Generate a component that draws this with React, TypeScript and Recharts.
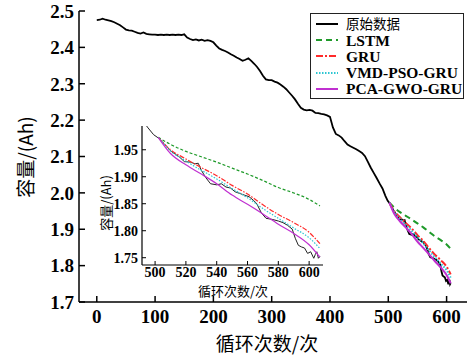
import { LineChart, Line, XAxis, YAxis, CartesianGrid } from 'recharts';

// 原始数据
const rawCycles = [
  0, 5, 10, 15, 20, 25, 30, 35, 40, 45, 50, 55, 60, 65, 70, 75, 80, 85, 90, 95,
  100, 105, 110, 115, 120, 125, 130, 135, 140, 145, 150, 155, 160, 165, 170, 175, 180, 185, 190, 195,
  200, 205, 210, 215, 220, 225, 230, 235, 240, 245, 250, 255, 260, 265, 270, 275, 280, 285, 290, 295,
  300, 305, 310, 315, 320, 325, 330, 335, 340, 345, 350, 355, 360, 365, 370, 375, 380, 385, 390, 395,
  400, 405, 410, 415, 420, 425, 430, 435, 440, 445, 450, 455, 460, 465, 470, 475, 480, 485, 490, 495,
  499, 502, 506, 510, 513, 516, 519, 523, 526, 528, 530, 533, 536, 540, 543, 546, 549, 552, 555, 558,
  561, 564, 566, 569, 572, 576, 580, 583, 586, 589, 591, 593, 595, 597, 599, 601, 603, 604, 605, 606, 607,
];
const rawCapacity = [
  2.475, 2.476, 2.479, 2.476, 2.474, 2.472, 2.469, 2.465, 2.461, 2.455, 2.449, 2.447, 2.446, 2.443, 2.44, 2.438, 2.441, 2.437, 2.436, 2.435,
  2.435, 2.434, 2.435, 2.434, 2.435, 2.434, 2.435, 2.434, 2.435, 2.434, 2.436, 2.427, 2.423, 2.42, 2.422, 2.419, 2.421, 2.418, 2.42, 2.418,
  2.414, 2.405, 2.397, 2.393, 2.39, 2.386, 2.381, 2.377, 2.372, 2.368, 2.363, 2.366, 2.37, 2.363, 2.355, 2.346, 2.335, 2.322, 2.312, 2.31,
  2.31, 2.306, 2.303, 2.298, 2.292, 2.285, 2.276, 2.267, 2.257, 2.245, 2.234, 2.229, 2.227, 2.228, 2.226, 2.22, 2.219, 2.217, 2.216, 2.213,
  2.209, 2.18, 2.162, 2.158, 2.152, 2.142, 2.133, 2.128, 2.124, 2.12, 2.115, 2.11, 2.101, 2.085, 2.069, 2.055, 2.041, 2.026, 2.012, 1.992,
  1.978, 1.972, 1.961, 1.948, 1.942, 1.936, 1.928, 1.927, 1.924, 1.925, 1.912, 1.898, 1.887, 1.885, 1.887, 1.881, 1.879, 1.872, 1.869, 1.866,
  1.863, 1.856, 1.85, 1.833, 1.823, 1.821, 1.818, 1.815, 1.81, 1.803, 1.786, 1.773, 1.77, 1.768, 1.758, 1.761, 1.749, 1.756, 1.761, 1.749, 1.752,
];

// predictions
const predCycles = [502, 510, 520, 530, 540, 550, 560, 570, 580, 590, 600, 607];
const lstm = [1.973, 1.96, 1.947, 1.937, 1.927, 1.916, 1.905, 1.893, 1.88, 1.87, 1.858, 1.846];
const gru = [1.973, 1.95, 1.933, 1.917, 1.902, 1.884, 1.868, 1.848, 1.83, 1.815, 1.797, 1.776];
const vmdPsoGru = [1.973, 1.948, 1.929, 1.912, 1.896, 1.878, 1.861, 1.841, 1.823, 1.805, 1.787, 1.767];
const pcaGwoGru = [1.973, 1.943, 1.922, 1.905, 1.887, 1.866, 1.849, 1.831, 1.812, 1.795, 1.774, 1.751];

const mainXTicks = [0, 100, 200, 300, 400, 500, 600];
const mainYTicks = [1.7, 1.8, 1.9, 2.0, 2.1, 2.2, 2.3, 2.4, 2.5];
const insetXTicks = [500, 520, 540, 560, 580, 600];
const insetYTicks = [1.75, 1.8, 1.85, 1.9, 1.95];

const rawData = rawCycles.map((c, i) => ({ cycle: c, value: rawCapacity[i] }));
const toSeries = (vals: number[]) => predCycles.map((c, i) => ({ cycle: c, value: vals[i] }));

const SERIES = [
  { name: 'LSTM', data: toSeries(lstm), color: '#1f9a2a', dash: '6 4', small: '3 2' },
  { name: 'GRU', data: toSeries(gru), color: '#ff2a2a', dash: '7 2 2 2', small: '5 1.5 1.5 1.5' },
  { name: 'VMD-PSO-GRU', data: toSeries(vmdPsoGru), color: '#2cc6d2', dash: '1.5 1.5', small: '1.5 1.5' },
  { name: 'PCA-GWO-GRU', data: toSeries(pcaGwoGru), color: '#c030d0', dash: undefined, small: undefined },
];

const FONT = '"Liberation Serif", "Noto Sans CJK SC", serif';
const CJK = '"Noto Sans CJK SC", "Liberation Serif", serif';

const MainXTick = (props: any) => {
  const { x, y, payload } = props;
  return (
    <g>
      <line x1={x} x2={x} y1={y} y2={y - 6} stroke="#000" strokeWidth={1.5} />
      <text x={x} y={y + 21} textAnchor="middle" fontFamily={FONT} fontWeight="bold" fontSize={19} fill="#000">
        {payload.value}
      </text>
    </g>
  );
};

const MainYTick = (props: any) => {
  const { x, y, payload } = props;
  return (
    <g>
      <line x1={x} x2={x + 6} y1={y} y2={y} stroke="#000" strokeWidth={1.5} />
      <text x={x - 5} y={y} dy="0.36em" textAnchor="end" fontFamily={FONT} fontWeight="bold" fontSize={19} fill="#000">
        {payload.value.toFixed(1)}
      </text>
    </g>
  );
};

const InsetXTick = (props: any) => {
  const { x, y, payload } = props;
  return (
    <g>
      <line x1={x} x2={x} y1={y} y2={y - 4} stroke="#000" strokeWidth={1} />
      <text x={x} y={y + 12} textAnchor="middle" fontFamily={FONT} fontWeight="bold" fontSize={14} fill="#000">
        {payload.value}
      </text>
    </g>
  );
};

const InsetYTick = (props: any) => {
  const { x, y, payload } = props;
  return (
    <g>
      <line x1={x} x2={x + 4} y1={y} y2={y} stroke="#000" strokeWidth={1} />
      <text x={x - 4} y={y} dy="0.36em" textAnchor="end" fontFamily={FONT} fontWeight="bold" fontSize={14} fill="#000">
        {payload.value.toFixed(2)}
      </text>
    </g>
  );
};

const LegendBox = () => {
  const rows = [{ name: '原始数据', color: '#000', dash: undefined as string | undefined }, ...SERIES];
  return (
    <div
      style={{
        position: 'absolute', left: 310, top: 13, width: 154, height: 86,
        border: '1.5px solid #222', background: '#fff', padding: '2px 0',
        boxSizing: 'border-box',
      }}
    >
      {rows.map((r, i) => (
        <div key={r.name} style={{ display: 'flex', alignItems: 'center', height: 16.2 }}>
          <svg width={30} height={10} style={{ marginLeft: 5, flex: 'none' }}>
            <line x1={0} x2={22} y1={5} y2={5} stroke={r.color} strokeWidth={2} strokeDasharray={r.dash} />
          </svg>
          <span
            style={{
              fontFamily: i === 0 ? CJK : FONT, fontWeight: i === 0 ? 400 : 700,
              fontSize: i === 0 ? 13.5 : 15.5, lineHeight: '13px', color: '#000', whiteSpace: 'nowrap',
              position: 'relative', top: i === 0 ? -1 : 0,
            }}
          >
            {r.name}
          </span>
        </div>
      ))}
    </div>
  );
};

export default function App() {
  return (
    <div style={{ position: 'absolute', left: 0, top: 0, width: 468, height: 357, background: '#fff' }}>
      <div style={{ position: 'absolute', left: 0, top: 0 }}>
        <LineChart width={468} height={357} margin={{ top: 11, right: 1, bottom: 0, left: 0 }}>
          <XAxis
            type="number" dataKey="cycle" domain={[-30.5, 635]} ticks={mainXTicks} allowDataOverflow
            height={55} tickSize={0} tickMargin={0} tick={<MainXTick />} axisLine={{ stroke: '#000', strokeWidth: 1.5 }}
          />
          <XAxis
            xAxisId="top" orientation="top" type="number" domain={[-30.5, 635]} height={0}
            tick={false} tickLine={false} axisLine={{ stroke: '#000', strokeWidth: 1.5 }}
          />
          <YAxis
            type="number" domain={[1.7, 2.5]} ticks={mainYTicks} allowDataOverflow width={79}
            tickSize={0} tickMargin={0} tick={<MainYTick />} axisLine={{ stroke: '#000', strokeWidth: 1.5 }}
          />
          <YAxis
            yAxisId="right" orientation="right" type="number" domain={[1.7, 2.5]} width={0}
            tick={false} tickLine={false} axisLine={{ stroke: '#c8c8c8', strokeWidth: 1 }}
          />
          <Line data={rawData} dataKey="value" stroke="#000" strokeWidth={1.8} dot={false} isAnimationActive={false} />
          {SERIES.map((s) => (
            <Line
              key={s.name} data={s.data} dataKey="value" stroke={s.color} strokeWidth={2}
              strokeDasharray={s.dash} dot={false} isAnimationActive={false} type="monotone"
            />
          ))}
        </LineChart>
      </div>

      <div style={{ position: 'absolute', left: 0, top: 0 }}>
        <LineChart width={468} height={357} margin={{ top: 126, right: 145, bottom: 62, left: 100 }}>
          <CartesianGrid horizontal={false} vertical={false} fill="#fff" />
          <XAxis
            type="number" dataKey="cycle" domain={[491.5, 609]} ticks={insetXTicks} allowDataOverflow
            height={30} tickSize={0} tickMargin={0} tick={<InsetXTick />} axisLine={{ stroke: '#000', strokeWidth: 1.2 }}
          />
          <XAxis
            xAxisId="top" orientation="top" type="number" domain={[491.5, 609]} height={0}
            tick={false} tickLine={false} axisLine={{ stroke: '#000', strokeWidth: 1.2 }}
          />
          <YAxis
            type="number" domain={[1.7365, 1.994]} ticks={insetYTicks} allowDataOverflow width={42}
            tickSize={0} tickMargin={0} tick={<InsetYTick />} axisLine={{ stroke: '#000', strokeWidth: 1.2 }}
          />
          <YAxis
            yAxisId="right" orientation="right" type="number" domain={[1.7365, 1.994]} width={0}
            tick={false} tickLine={false} axisLine={{ stroke: '#000', strokeWidth: 1.2 }}
          />
          <Line data={rawData} dataKey="value" stroke="#222" strokeWidth={1} dot={false} isAnimationActive={false} />
          {SERIES.map((s) => (
            <Line
              key={s.name} data={s.data} dataKey="value" stroke={s.color} strokeWidth={1.2}
              strokeDasharray={s.small} dot={false} isAnimationActive={false} type="monotone"
            />
          ))}
        </LineChart>
      </div>

      {/* axis titles */}
      <div style={{ position: 'absolute', left: 0, top: 331, width: 534, textAlign: 'center', fontFamily: CJK, fontSize: 19, lineHeight: '24px' }}>
        循环次数/次
      </div>
      <div
        style={{
          position: 'absolute', left: 25, top: 157, transform: 'translate(-50%, -50%) rotate(-90deg)',
          fontFamily: CJK, fontSize: 19, lineHeight: '24px', whiteSpace: 'nowrap',
        }}
      >
        容量/(Ah)
      </div>
      <div style={{ position: 'absolute', left: 233, top: 290, transform: 'translate(-50%, -50%)', fontFamily: CJK, fontSize: 13, lineHeight: '13px', whiteSpace: 'nowrap' }}>
        循环次数/次
      </div>
      <div
        style={{
          position: 'absolute', left: 106, top: 203, transform: 'translate(-50%, -50%) rotate(-90deg)',
          fontFamily: CJK, fontSize: 13, lineHeight: '14px', whiteSpace: 'nowrap',
        }}
      >
        容量/(Ah)
      </div>

      <LegendBox />
    </div>
  );
}
